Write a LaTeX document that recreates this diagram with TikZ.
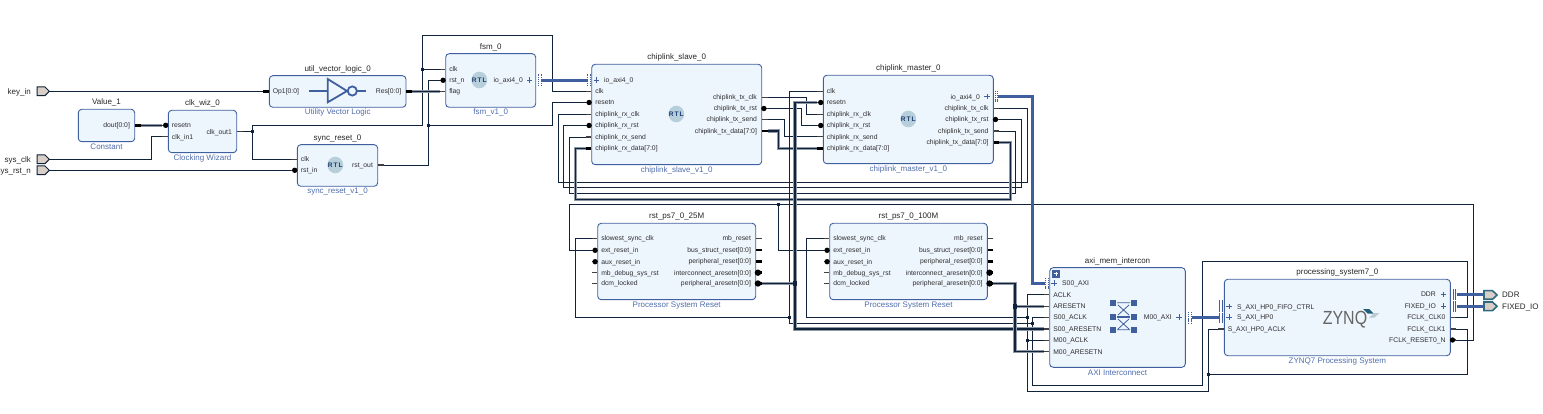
\documentclass[tikz,border=0pt]{standalone}
\usepackage{fontspec}
\setmainfont{Liberation Sans}
\usetikzlibrary{arrows.meta}
\definecolor{blockfill}{HTML}{EDF5FD}
\definecolor{blockline}{HTML}{3F5F9E}
\definecolor{subtext}{HTML}{4F6DAB}
\definecolor{pintext}{HTML}{2E2E2E}
\definecolor{wirecol}{HTML}{10233A}
\definecolor{halo}{HTML}{8E99A5}
\definecolor{ifblue}{HTML}{3F5F9E}
\definecolor{portfill}{HTML}{D9CFC9}
\definecolor{portteal}{HTML}{2F6A80}
\definecolor{rtlbg}{HTML}{B7CFDB}
\definecolor{rtlfg}{HTML}{1F3F74}
\definecolor{zynqgrey}{HTML}{666666}
\definecolor{zynqteal}{HTML}{1F5F78}
\definecolor{zynqlight}{HTML}{B9CBD3}
\gdef\bubsize{0}
\tikzset{
  x=1pt,y=-1pt,
  blockbox/.style={draw=blockline,fill=blockfill,line width=0.9pt,rounded corners=3.5pt,inner sep=0pt,outer sep=0pt},
  titletext/.style={font=\fontsize{8}{9}\selectfont,text=black!85,inner sep=0pt},
  subtitle/.style={font=\fontsize{8}{9}\selectfont,text=subtext,inner sep=0pt},
  pinlabel/.style={font=\fontsize{6.8}{8}\selectfont,text=pintext,inner sep=0pt,text height=5pt,text depth=0pt},
  portlabel/.style={font=\fontsize{8}{9}\selectfont,text=black!85,inner sep=0pt,text height=5.8pt,text depth=0pt},
  pinn/.style={draw=black!75,line width=1.5pt},
  pinb/.style={draw=black,line width=2.8pt},
  pini/.style={draw=black!75,line width=1.5pt,/utils/exec={\gdef\bubsize{2.7}}},
  pinib/.style={draw=black,line width=2.8pt,/utils/exec={\gdef\bubsize{3.2}}},
  wire/.style={draw=wirecol,line width=0.95pt},
  buswire/.style={draw=wirecol,line width=1.3pt,preaction={draw=halo,line width=3.2pt}},
  ifwire/.style={draw=ifblue,line width=3pt},
  jn/.style={fill=wirecol,inner sep=0pt,minimum size=3.2pt,outer sep=0pt},
  jb/.style={fill=wirecol,inner sep=0pt,minimum size=4.4pt,outer sep=0pt},
  plusmark/.style={draw=ifblue,line width=0.9pt},
  ifdots/.style={draw=ifblue,line width=0.9pt,dash pattern=on 1.2pt off 0.9pt},
  ifbars/.style={draw=ifblue,line width=0.9pt},
  portshape/.style={draw=wirecol,fill=portfill,line width=1pt,line join=miter},
  tealport/.style={draw=portteal,fill=portfill,line width=1.6pt,line join=miter},
  rtlmark/.style={font=\fontsize{6.6}{7}\bfseries\selectfont,text=rtlfg,inner sep=0pt},
  icon/.style={draw=ifblue,line width=1.8pt},
  thinicon/.style={draw=ifblue,line width=0.8pt},
}
\newcommand\block[7]{%
  \node[blockbox,minimum width={#4-#2},minimum height={#5-#3}] (#1) at ({(#2+#4)/2},{(#3+#5)/2}) {};
  \node[titletext] (#1-title) at ([yshift=6.5pt]#1.north) {#6};
  \node[subtitle] (#1-sub) at ([yshift=-5.5pt]#1.south) {#7};
}
% left pin: name, block edge x, y, text, stub style
\newcommand\lpin[5]{%
  \coordinate (#1) at ({#2-6},#3);
  \coordinate (#1-e) at ({#2-0.3},#3);
  \gdef\bubsize{0}%
  \draw[#5] (#1) -- (#1-e);
  \ifdim\bubsize pt>0pt \fill[black] ({#2-2.6},#3) circle (\bubsize);\fi
  \node[pinlabel,anchor=west] (#1-t) at ({#2+3.4},#3) {#4};
}
% right pin
\newcommand\rpin[5]{%
  \coordinate (#1) at ({#2+6},#3);
  \coordinate (#1-e) at ({#2+0.3},#3);
  \gdef\bubsize{0}%
  \draw[#5] (#1) -- (#1-e);
  \ifdim\bubsize pt>0pt \fill[black] ({#2+2.2},#3) circle (\bubsize);\fi
  \node[pinlabel,anchor=east] (#1-t) at ({#2-4.6},#3) {#4};
}
\newcommand\plusat[2]{%
  \draw[plusmark] ({#1-2.6},#2) -- ({#1+2.6},#2) ({#1},{#2-2.6}) -- ({#1},{#2+2.6});
}
\newcommand\rtl[3]{%
  \fill[rtlbg] (#2,#3) ellipse (7.9 and 8.3);
  \node[rtlmark] (#1) at (#2,#3) {R\kern1pt T\kern1pt L};
}
\newcommand\port[4]{%
  \draw[portshape] (#2,{#3-4.3}) -- ({#2+8},{#3-4.3}) -- ({#2+12.3},#3) -- ({#2+8},{#3+4.3}) -- (#2,{#3+4.3}) -- cycle;
  \coordinate (#1) at ({#2+12.3},#3);
  \node[portlabel,anchor=east] (#1-t) at ({#2-6},#3) {#4};
}
\newcommand\oport[4]{%
  \draw[tealport] (#2,{#3-4.3}) -- ({#2+8.5},{#3-4.3}) -- ({#2+13},#3) -- ({#2+8.5},{#3+4.3}) -- (#2,{#3+4.3}) -- cycle;
  \coordinate (#1) at (#2,#3);
  \node[portlabel,anchor=west] (#1-t) at ({#2+18},#3) {#4};
}
\begin{document}
\begin{tikzpicture}
\path[use as bounding box] (0,0) rectangle (1543,414);
% ---------- ports
\port{keyin}{37}{91.3}{key\_in}
\port{sysclk}{37}{159.3}{sys\_clk}
\port{sysrst}{37}{170.3}{sys\_rst\_n}
\oport{ddrp}{1484}{295}{DDR}
\oport{fixp}{1484}{306.3}{FIXED\_IO}
% ---------- Value_1
\block{val}{78.3}{109.3}{134.7}{141.7}{Value\_1}{Constant}
\rpin{val-dout}{134.7}{125.3}{dout[0:0]}{pinb}
% ---------- clk_wiz_0
\block{wiz}{168.3}{110.3}{236.7}{152.7}{clk\_wiz\_0}{Clocking Wizard}
\lpin{wiz-reset}{168.3}{125.3}{resetn}{pini}
\lpin{wiz-clk}{168.3}{136.7}{clk\_in1}{pinn}
\rpin{wiz-out}{236.7}{131.7}{clk\_out1}{pinn}
% ---------- util_vector_logic_0
\block{uvl}{269.3}{75.7}{406}{107.3}{util\_vector\_logic\_0}{Utility Vector Logic}
\lpin{uvl-op}{269.3}{91.3}{Op1[0:0]}{pinb}
\rpin{uvl-res}{406}{91.3}{Res[0:0]}{pinb}
\draw[icon,line join=miter] (327.7,79) -- (347,91) -- (327.7,102.3) -- cycle;
\draw[icon] (309.3,91) -- (327.7,91);
\draw[icon] (352.3,91) circle (4.6);
\draw[icon] (357,91) -- (366,91);
% ---------- sync_reset_0
\block{sync}{297.3}{144.7}{377.7}{186.3}{sync\_reset\_0}{sync\_reset\_v1\_0}
\lpin{sync-clk}{297.3}{159.3}{clk}{pinn}
\lpin{sync-rst}{297.3}{170.3}{rst\_in}{pini}
\rpin{sync-out}{377.7}{165}{rst\_out}{pinn}
\rtl{rtl1}{335.3}{165}
% ---------- fsm_0
\block{fsm}{445.7}{53.7}{535.7}{107.3}{fsm\_0}{fsm\_v1\_0}
\lpin{fsm-clk}{445.7}{69.3}{clk}{pinn}
\lpin{fsm-rst}{445.7}{80.3}{rst\_n}{pini}
\lpin{fsm-flag}{445.7}{91.3}{flag}{pinn}
\coordinate (fsm-io) at (541,80.3);
\node[pinlabel,anchor=east] (fsm-io-t) at (523,80.3) {io\_axi4\_0};
\plusat{529.7}{80}
\draw[ifdots] (538.5,74.5) -- (538.5,85.5) (541,74.5) -- (541,85.5);
\rtl{rtl2}{479.3}{80}
% ---------- chiplink_slave_0
\block{sl}{591.7}{64.3}{761.7}{164.7}{chiplink\_slave\_0}{chiplink\_slave\_v1\_0}
\coordinate (sl-io) at (587.5,80.3);
\draw[ifdots] (587.5,74.5) -- (587.5,85.5) (590,74.5) -- (590,85.5);
\plusat{596.3}{80}
\node[pinlabel,anchor=west] (sl-io-t) at (604,80.3) {io\_axi4\_0};
\lpin{sl-clk}{591.7}{91.5}{clk}{pinn}
\lpin{sl-rstn}{591.7}{102.5}{resetn}{pini}
\lpin{sl-rxclk}{591.7}{114.3}{chiplink\_rx\_clk}{pinn}
\lpin{sl-rxrst}{591.7}{125.5}{chiplink\_rx\_rst}{pini}
\lpin{sl-rxsend}{591.7}{137}{chiplink\_rx\_send}{pinn}
\lpin{sl-rxdata}{591.7}{148.5}{chiplink\_rx\_data[7:0]}{pinb}
\rpin{sl-txclk}{761.7}{97.5}{chiplink\_tx\_clk}{pinn}
\rpin{sl-txrst}{761.7}{108.5}{chiplink\_tx\_rst}{pini}
\rpin{sl-txsend}{761.7}{119.5}{chiplink\_tx\_send}{pinn}
\rpin{sl-txdata}{761.7}{131}{chiplink\_tx\_data[7:0]}{pinb}
\rtl{rtl3}{676.3}{114}
% ---------- chiplink_master_0
\block{ma}{823.3}{75.3}{993.3}{163.7}{chiplink\_master\_0}{chiplink\_master\_v1\_0}
\lpin{ma-clk}{823.3}{91.3}{clk}{pinn}
\lpin{ma-rstn}{823.3}{102.5}{resetn}{pini}
\lpin{ma-rxclk}{823.3}{114.3}{chiplink\_rx\_clk}{pinn}
\lpin{ma-rxrst}{823.3}{125.5}{chiplink\_rx\_rst}{pini}
\lpin{ma-rxsend}{823.3}{136.7}{chiplink\_rx\_send}{pinn}
\lpin{ma-rxdata}{823.3}{148.3}{chiplink\_rx\_data[7:0]}{pinb}
\coordinate (ma-io) at (998,96.7);
\node[pinlabel,anchor=east] (ma-io-t) at (980,96.7) {io\_axi4\_0};
\plusat{987}{96.5}
\draw[ifdots] (995,91) -- (995,102) (997.5,91) -- (997.5,102);
\rpin{ma-txclk}{993.3}{108.5}{chiplink\_tx\_clk}{pinn}
\rpin{ma-txrst}{993.3}{119.5}{chiplink\_tx\_rst}{pini}
\rpin{ma-txsend}{993.3}{131}{chiplink\_tx\_send}{pinn}
\rpin{ma-txdata}{993.3}{142.5}{chiplink\_tx\_data[7:0]}{pinb}
\rtl{rtl4}{908.3}{119}
% ---------- rst_ps7_0_25M
\block{ra}{597.7}{223.3}{755.7}{299.7}{rst\_ps7\_0\_25M}{Processor System Reset}
\lpin{ra-clk}{597.7}{238.3}{slowest\_sync\_clk}{pinn}
\lpin{ra-ext}{597.7}{250.3}{ext\_reset\_in}{pini}
\lpin{ra-aux}{597.7}{261.7}{aux\_reset\_in}{pini}
\lpin{ra-dbg}{597.7}{272.7}{mb\_debug\_sys\_rst}{pinn}
\lpin{ra-dcm}{597.7}{283.5}{dcm\_locked}{pinn}
\rpin{ra-mb}{755.7}{238.3}{mb\_reset}{pinn}
\rpin{ra-bus}{755.7}{250}{bus\_struct\_reset[0:0]}{pinb}
\rpin{ra-per}{755.7}{261.5}{peripheral\_reset[0:0]}{pinb}
\rpin{ra-ic}{755.7}{272.7}{interconnect\_aresetn[0:0]}{pinib}
\rpin{ra-pa}{755.7}{283.5}{peripheral\_aresetn[0:0]}{pinib}
% ---------- rst_ps7_0_100M
\block{rb}{829.7}{223.3}{987.3}{299.7}{rst\_ps7\_0\_100M}{Processor System Reset}
\lpin{rb-clk}{829.7}{238.3}{slowest\_sync\_clk}{pinn}
\lpin{rb-ext}{829.7}{250.3}{ext\_reset\_in}{pini}
\lpin{rb-aux}{829.7}{261.7}{aux\_reset\_in}{pini}
\lpin{rb-dbg}{829.7}{272.7}{mb\_debug\_sys\_rst}{pinn}
\lpin{rb-dcm}{829.7}{283.5}{dcm\_locked}{pinn}
\rpin{rb-mb}{987.3}{238.3}{mb\_reset}{pinn}
\rpin{rb-bus}{987.3}{250}{bus\_struct\_reset[0:0]}{pinb}
\rpin{rb-per}{987.3}{261.5}{peripheral\_reset[0:0]}{pinb}
\rpin{rb-ic}{987.3}{272.7}{interconnect\_aresetn[0:0]}{pinib}
\rpin{rb-pa}{987.3}{283.5}{peripheral\_aresetn[0:0]}{pinib}
% ---------- axi_mem_intercon
\block{ax}{1049.7}{267.7}{1185.3}{367.3}{axi\_mem\_intercon}{AXI Interconnect}
\fill[ifblue] (1052.3,270.3) rectangle (1059.7,277.7);
\draw[white,line width=1pt] (1053.6,274) -- (1058.4,274) (1056,271.6) -- (1056,276.4);
\coordinate (ax-s) at (1045,283.3);
\draw[ifdots] (1045.5,278) -- (1045.5,289) (1048,278) -- (1048,289);
\plusat{1054}{283}
\node[pinlabel,anchor=west] (ax-s-t) at (1062,283.3) {S00\_AXI};
\lpin{ax-aclk}{1049.7}{294.7}{ACLK}{pinn}
\lpin{ax-arst}{1049.7}{306.3}{ARESETN}{pinn}
\lpin{ax-sclk}{1049.7}{317.3}{S00\_ACLK}{pinn}
\lpin{ax-srst}{1049.7}{329}{S00\_ARESETN}{pinn}
\lpin{ax-mclk}{1049.7}{340.3}{M00\_ACLK}{pinn}
\lpin{ax-mrst}{1049.7}{351.5}{M00\_ARESETN}{pinn}
\coordinate (ax-m) at (1191.5,317.3);
\node[pinlabel,anchor=east] (ax-m-t) at (1172,317.3) {M00\_AXI};
\plusat{1179}{317}
\draw[ifdots] (1188.5,312) -- (1188.5,323) (1191,312) -- (1191,323);
% interconnect icon
\foreach \yy in {303,317,329.7}{\fill[ifblue] (1110,{\yy-3}) rectangle (1116,{\yy+3}); \fill[ifblue] (1131,{\yy-3}) rectangle (1137,{\yy+3});}
\draw[thinicon] (1117,302.7) -- (1130,302.7) (1117,329.7) -- (1130,329.7) (1118,305) -- (1129,315) (1129,305) -- (1118,315) (1118,319) -- (1129,329) (1129,319) -- (1118,329);
\draw[thinicon,line width=1.4pt] (1117,317) -- (1130,317);
% ---------- processing_system7_0
\block{ps}{1224.3}{279.3}{1450.3}{355.7}{processing\_system7\_0}{ZYNQ7 Processing System}
\draw[ifbars] (1219.5,300.5) -- (1219.5,312) (1222,300.5) -- (1222,312);
\draw[ifbars] (1219.5,312.5) -- (1219.5,323) (1222,312.5) -- (1222,323);
\plusat{1229}{306.3}
\plusat{1229}{317}
\coordinate (ps-hp) at (1219.5,317.3);
\node[pinlabel,anchor=west] (ps-fifo-t) at (1237,306.5) {S\_AXI\_HP0\_FIFO\_CTRL};
\node[pinlabel,anchor=west] (ps-hp-t) at (1237,317.3) {S\_AXI\_HP0};
\lpin{ps-aclk}{1224.3}{329}{S\_AXI\_HP0\_ACLK}{pinn}
\coordinate (ps-ddr) at (1456.5,295);
\coordinate (ps-fix) at (1456.5,306.3);
\draw[ifbars] (1453,289) -- (1453,300.5) (1455.7,289) -- (1455.7,300.5);
\draw[ifbars] (1453,301) -- (1453,312) (1455.7,301) -- (1455.7,312);
\plusat{1443.7}{294.3}
\plusat{1443.7}{306}
\node[pinlabel,anchor=east] (ps-ddr-t) at (1436,294.5) {DDR};
\node[pinlabel,anchor=east] (ps-fix-t) at (1436,306.3) {FIXED\_IO};
\rpin{ps-f0}{1450.3}{317.3}{FCLK\_CLK0}{pinn}
\rpin{ps-f1}{1450.3}{329}{FCLK\_CLK1}{pinn}
\rpin{ps-rn}{1450.3}{340}{FCLK\_RESET0\_N}{pini}
\node[font=\fontsize{19}{20}\selectfont,text=zynqgrey,inner sep=0pt,xscale=0.84] (zynq) at (1345,319.3) {ZYNQ};
\fill[zynqteal] (1363,309) -- (1369,309) -- (1373.5,313.5) -- (1367.5,313.5) -- cycle;
\fill[zynqlight] (1369,317.5) -- (1374.5,313) -- (1379.5,313) -- (1374.5,317.5) -- cycle;
% ---------- junctions (named points)
\node[jn] (jclk) at (252.3,131.7) {};
\node[jn] (jfsmclk) at (422.3,69.3) {};
\node[jn] (jrst) at (428.3,125.3) {};
\node[jb] (ja) at (795,283.5) {};
\node[jb] (jb) at (1015,306.3) {};
\node[jn] (jc) at (789.3,317.3) {};
\node[jn] (jd) at (1027.3,317.3) {};
\node[jn] (je) at (1032.3,323.3) {};
\node[jn] (jf) at (1027.3,340.3) {};
\node[jn] (jg) at (1208.3,374.3) {};
\node[jn] (jh) at (778.3,204.3) {};
% ---------- wires
\draw[wire] (keyin) -- (uvl-op);
\draw[buswire] (val-dout) -- (wiz-reset);
\draw[wire] (sysclk) -| (151.7,136.7) -- (wiz-clk);
\draw[wire] (sysrst) -- (sync-rst);
\draw[wire] (wiz-out) -- (jclk.center) |- (sync-clk);
\draw[wire] (jclk.center) |- (422.3,125.3) -- (422.3,35) -- (552.7,35) |- (sl-clk);
\draw[wire] (jfsmclk.center) -- (fsm-clk);
\draw[wire] (sync-out) -| (428.3,80.3) -- (fsm-rst);
\draw[wire] (jrst.center) -- (552.7,125.3) |- (sl-rstn);
\draw[buswire] (uvl-res) -- (fsm-flag);
\draw[ifwire] (fsm-io) -- (sl-io);
\draw[wire] (sl-txclk) -| (806.7,114.3) -- (ma-rxclk);
\draw[wire] (sl-txrst) -| (801.3,125.5) -- (ma-rxrst);
\draw[wire] (sl-txsend) -| (784.7,136.7) -- (ma-rxsend);
\draw[buswire] (sl-txdata) -| (778.3,148.3) -- (ma-rxdata);
\draw[wire] (sl-rxclk) -| (558.3,182.3) -- (1027.3,182.3) |- (ma-txclk);
\draw[wire] (sl-rxrst) -| (563.7,187.5) -- (1021.7,187.5) |- (ma-txrst);
\draw[wire] (sl-rxsend) -| (569.7,193.3) -- (1015.7,193.3) |- (ma-txsend);
\draw[buswire] (sl-rxdata) -| (575.3,199.5) -- (1010.3,199.5) |- (ma-txdata);
\draw[wire] (ps-rn) -| (1473.3,204.3) -- (569.3,204.3) |- (ra-ext);
\draw[wire] (jh.center) |- (rb-ext);
\draw[wire] (ra-clk) -| (575.3,317.3) -- (jc.center);
\draw[wire] (ma-clk) -| (789.3,323.3) -- (je.center);
\draw[wire] (rb-clk) -| (806.7,317.3) -- (jd.center);
\draw[wire] (ax-aclk) -| (1027.3,391.7) -- (1208.3,391.7) |- (ps-aclk);
\draw[wire] (jf.center) -- (ax-mclk);
\draw[wire] (ax-sclk) -| (1032.3,385.3) -- (1202.3,385.3) -- (1202.3,261.7) -- (1467.3,261.7) |- (ps-f0);
\draw[wire] (jg.center) -- (1467.3,374.3) |- (ps-f1);
\draw[buswire] (ra-pa) -- (ja.center);
\draw[buswire] (ma-rstn) -| (795,329) -- (ax-srst);
\draw[buswire] (rb-pa) -| (1015,351.5) -- (ax-mrst);
\draw[buswire] (jb.center) -- (ax-arst);
\draw[ifwire] (ma-io) -| (1032.5,283.3) -- (ax-s);
\draw[ifwire] (ax-m) -- (ps-hp);
\draw[ifwire] (ps-ddr) -- (ddrp);
\draw[ifwire] (ps-fix) -- (fixp);
% redraw junction marks above the wires
\foreach \j/\s in {jclk/jn,jfsmclk/jn,jrst/jn,ja/jb,jb/jb,jc/jn,jd/jn,je/jn,jf/jn,jg/jn,jh/jn}{\fill[wirecol] (\j.south west) rectangle (\j.north east);}
\end{tikzpicture}
\end{document}
